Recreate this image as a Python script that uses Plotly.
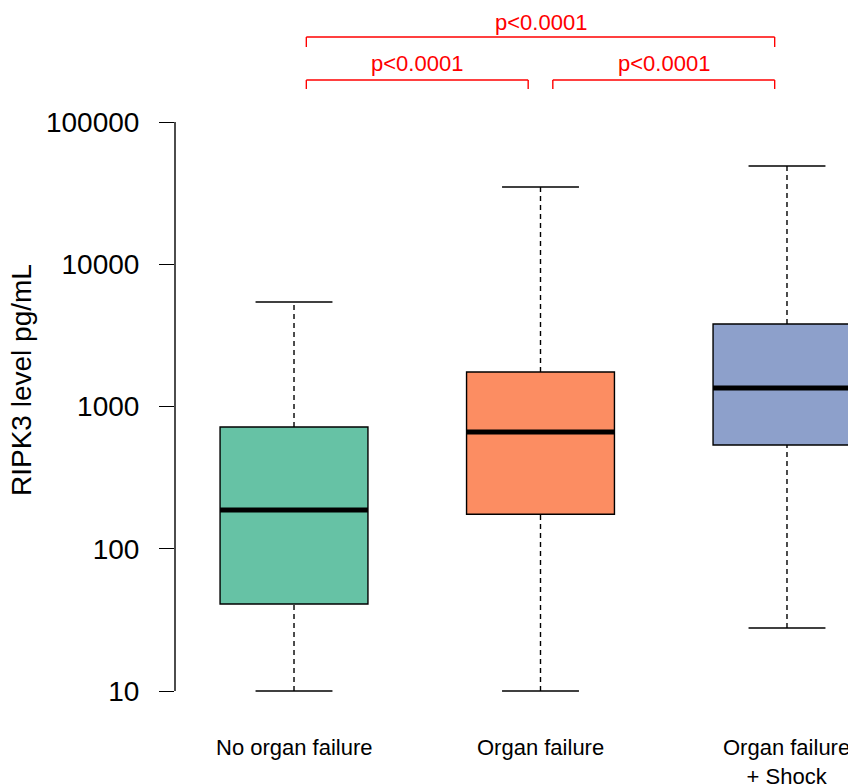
import plotly.graph_objects as go

# ---- data ----
groups = ["No organ failure", "Organ failure", "Organ failure<br>+ Shock"]
positions = [1, 2, 3]
lower_whisker = [10, 10, 27.7]
q1 = [40.9, 175, 536]
median = [187, 662, 1349]
q3 = [718, 1749, 3802]
upper_whisker = [5430, 34900, 49100]
colors = ["#66C2A5", "#FC8D62", "#8DA0CB"]

y_tick_vals = [10, 100, 1000, 10000, 100000]
y_tick_text = ["10", "100", "1000", "10000", "100000"]
y_title = "RIPK3 level pg/mL"

comparisons = [(1, 2, "p<0.0001", 0), (2, 3, "p<0.0001", 0), (1, 3, "p<0.0001", 1)]

# ---- style ----
FONT = "Liberation Sans, Arial, sans-serif"
BOX_W = 0.6
CAP_HALF = 0.156
LW = 1.4

fig = go.Figure()

for i, g in enumerate(groups):
    fig.add_trace(go.Box(
        x=[positions[i]], q1=[q1[i]], median=[median[i]], q3=[q3[i]],
        lowerfence=[q1[i]], upperfence=[q3[i]],
        width=BOX_W, fillcolor=colors[i],
        line=dict(color="black", width=LW),
        whiskerwidth=0, boxpoints=False, showlegend=False, hoverinfo="skip",
    ))

for i, g in enumerate(groups):
    p = positions[i]
    # dashed whiskers
    fig.add_trace(go.Scatter(
        x=[p, p, None, p, p],
        y=[q3[i], upper_whisker[i], None, lower_whisker[i], q1[i]],
        mode="lines", line=dict(color="black", width=LW, dash="5px,4px"),
        showlegend=False, hoverinfo="skip"))
    # caps
    fig.add_trace(go.Scatter(
        x=[p - CAP_HALF, p + CAP_HALF, None, p - CAP_HALF, p + CAP_HALF],
        y=[upper_whisker[i], upper_whisker[i], None, lower_whisker[i], lower_whisker[i]],
        mode="lines", line=dict(color="black", width=LW),
        showlegend=False, hoverinfo="skip"))
    # thick median
    fig.add_trace(go.Scatter(
        x=[p - BOX_W / 2, p + BOX_W / 2], y=[median[i], median[i]],
        mode="lines", line=dict(color="black", width=5),
        showlegend=False, hoverinfo="skip"))

shapes = []
annotations = []

# y axis line from first to last tick
shapes.append(dict(type="line", xref="paper", yref="y", x0=0, x1=0,
                   y0=y_tick_vals[0], y1=y_tick_vals[-1],
                   line=dict(color="black", width=LW)))

# significance brackets
level_y = {0: (1.0508, 1.0356, 1.078), 1: (1.1237, 1.1068, 1.149)}
for a, b, label, lvl in comparisons:
    yh, yl, yt = level_y[lvl]
    xa, xb = a + 0.05, b - 0.05
    for (x0, y0, x1, y1) in [(xa, yl, xa, yh), (xa, yh, xb, yh), (xb, yh, xb, yl)]:
        shapes.append(dict(type="line", xref="x", yref="paper",
                           x0=x0, y0=y0, x1=x1, y1=y1,
                           line=dict(color="red", width=1.4)))
    annotations.append(dict(x=(a + b) / 2, y=yt, xref="x", yref="paper",
                            text=label, showarrow=False, xanchor="center",
                            yanchor="middle",
                            font=dict(family=FONT, size=22, color="red")))

# category labels
for i, g in enumerate(groups):
    annotations.append(dict(x=positions[i], y=-0.0552, xref="x", yref="paper",
                            text=g, showarrow=False, xanchor="center",
                            yanchor="top",
                            font=dict(family=FONT, size=22, color="black")))

# y title
annotations.append(dict(x=-0.2273, y=0.5424, xref="paper", yref="paper",
                        text=y_title, showarrow=False, textangle=-90,
                        xanchor="center", yanchor="middle",
                        font=dict(family=FONT, size=28, color="black")))

fig.update_layout(
    width=848, height=784,
    margin=dict(l=175, r=0, t=110, b=84, pad=0),
    paper_bgcolor="white", plot_bgcolor="white",
    shapes=shapes, annotations=annotations,
    showlegend=False,
    xaxis=dict(range=[0.5172, 3.2475], showgrid=False, zeroline=False,
               showline=False, showticklabels=False, ticks=""),
    yaxis=dict(type="log", range=[0.9367, 5.0844], showgrid=False,
               zeroline=False, showline=False,
               tickvals=y_tick_vals, ticktext=y_tick_text,
               ticks="outside", ticklen=15, tickwidth=LW, tickcolor="black",
               ticklabelstandoff=14,
               tickfont=dict(family=FONT, size=28, color="black")),
)

fig.write_html("out.html")
